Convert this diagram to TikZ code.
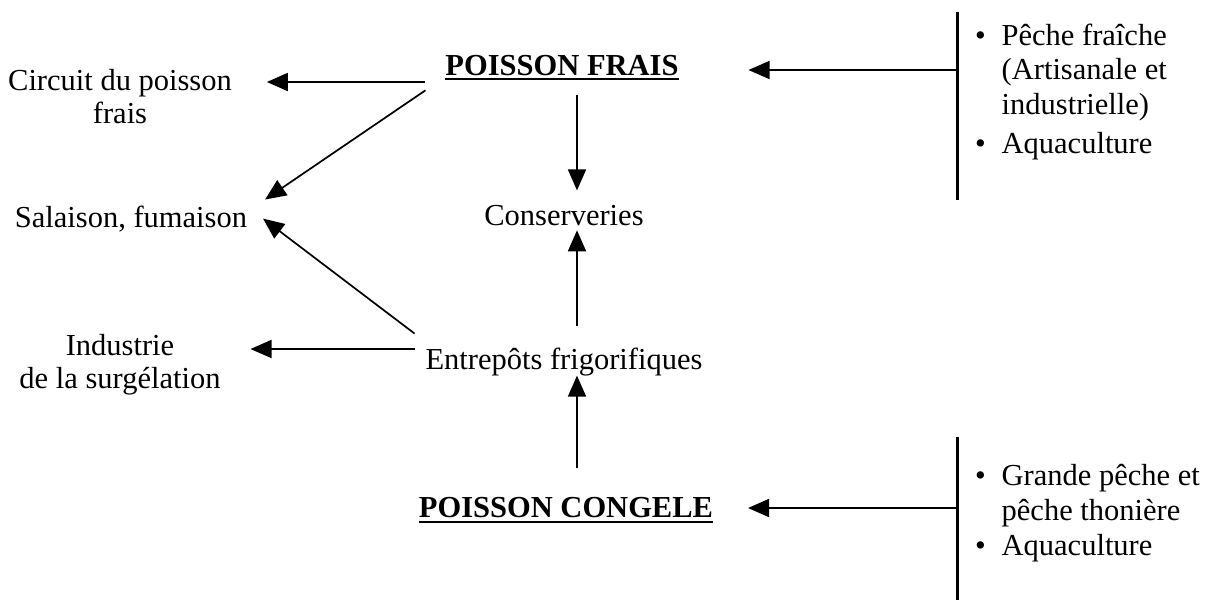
\documentclass[tikz,border=0pt]{standalone}
\usepackage{fontspec}
\setmainfont{Liberation Serif}
\usetikzlibrary{arrows.meta}
\begin{document}
\begin{tikzpicture}[x=1pt,y=-1pt,
  lbl/.style={inner sep=0pt,outer sep=0pt,font=\fontsize{30.5}{33}\selectfont,anchor=base},
  listbox/.style={lbl,anchor=base west},
  flow/.style={line width=1.7pt,-{Triangle[length=21pt,width=18pt]}},
  sepbar/.style={line width=3pt},
  uline/.style={line width=2.4pt}]
\useasboundingbox (0,0) rectangle (1210,600);

% helper lines: column of the vertical arrows, rows of the horizontal ones
\coordinate (col)  at (577,0);
\coordinate (row2) at (0,82);
\coordinate (row5) at (0,349);
\coordinate (j1)   at (957,70);
\coordinate (j9)   at (957,508);

% products
\node[lbl] (pf)   at (562,75)  {\textbf{POISSON FRAIS}};
\node[lbl] (pc)   at (566,517) {\textbf{POISSON CONGELE}};
\node[lbl,inner ysep=5pt] (cons) at (564,225) {Conserveries};
\node[lbl,inner xsep=11pt] (ent) at (564,369) {Entrepôts frigorifiques};

% outlets
\node[lbl] (circ) at (120,90)  {\begin{tabular}[t]{@{}c@{}}Circuit du poisson\\ frais\end{tabular}};
\node[lbl] (sal)  at (131,227) {Salaison, fumaison};
\node[lbl] (ind)  at (120,355) {\begin{tabular}[t]{@{}c@{}}Industrie\\ de la surgélation\end{tabular}};

% sources
\node[listbox,font=\fontsize{30.5}{34.5}\selectfont] (src1) at (975,45)
  {\begin{tabular}[t]{@{}c@{\hspace{16pt}}l@{}}\textbullet & Pêche fraîche\\ & (Artisanale et\\ & industrielle)\\[5pt] \textbullet & Aquaculture\end{tabular}};
\node[listbox,font=\fontsize{30.5}{35}\selectfont] (src2) at (975,485)
  {\begin{tabular}[t]{@{}c@{\hspace{16pt}}l@{}}\textbullet & Grande pêche et\\ & pêche thonière\\ \textbullet & Aquaculture\end{tabular}};

% underlines of the product titles
\draw[uline] ([yshift=-4pt]pf.base west) -- ([yshift=-4pt]pf.base east);
\draw[uline] ([yshift=-5pt]pc.base west) -- ([yshift=-5pt]pc.base east);

% separators in front of the sources
\draw[sepbar] (957,12) -- (957,200);
\draw[sepbar] (957,437) -- (957,600);

% flows
\draw[flow,shorten >=70pt] (j1) -- (j1 -| pf.east);
\draw[flow,shorten >=35pt] (j9) -- (j9 -| pc.east);
\draw[flow,shorten <=20pt,shorten >=35pt] (pf.west |- row2) -- (circ.east |- row2);
\draw[flow] ([shift={(-20,15)}]pf.south west) -- ([shift={(18,-6)}]sal.north east);
\draw[flow,shorten <=19.6pt,shorten >=9.4pt] (col |- pf.south) -- (col |- cons.north);
\draw[flow,shorten <=22pt] (col |- ent.north) -- (col |- cons.south);
\draw[flow] ([shift={(0,-14)}]ent.north west) -- ([xshift=16pt]sal.east);
\draw[flow,shorten >=30pt] (ent.west |- row5) -- (ind.east |- row5);
\draw[flow,shorten <=28.4pt] (col |- pc.north) -- (col |- ent.south);
\end{tikzpicture}
\end{document}
